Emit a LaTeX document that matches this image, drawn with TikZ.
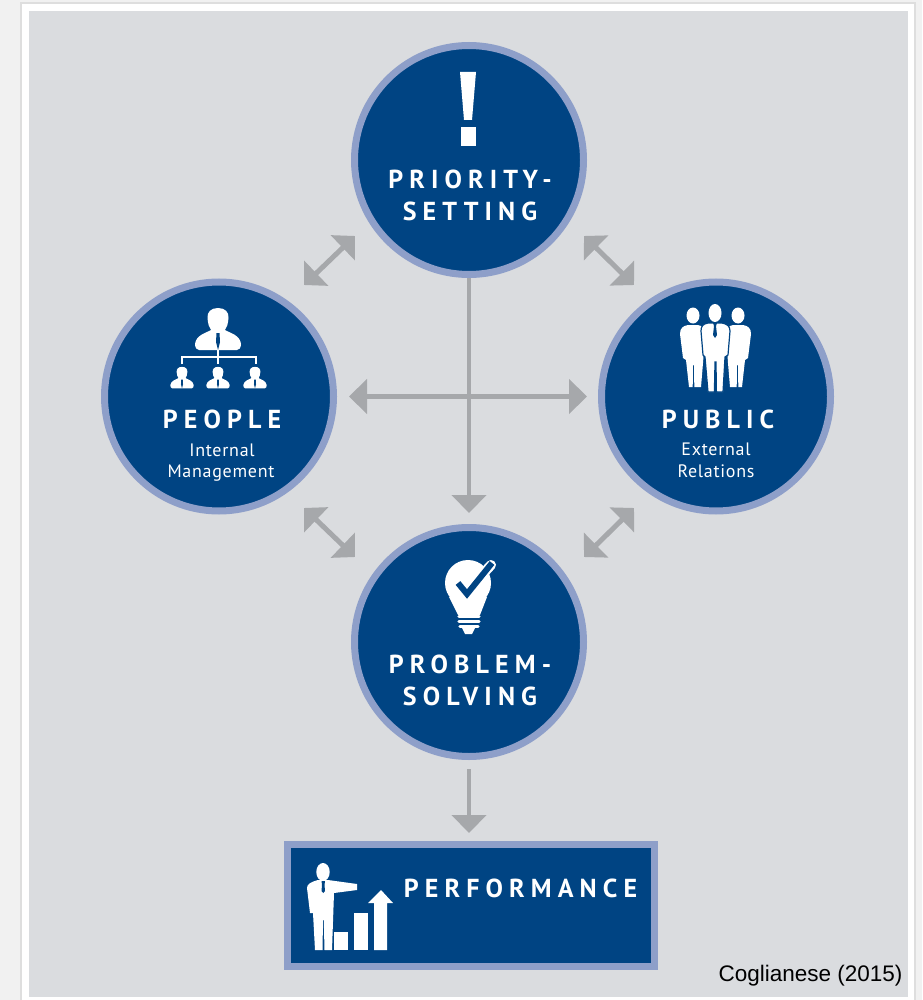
\documentclass[tikz,border=0pt]{standalone}
\usepackage{fontspec}
\usepackage{tikz}
\usetikzlibrary{arrows.meta}
\setmainfont{Liberation Sans}
\newfontfamily\headfont[LetterSpace=23.5]{PT Sans}
\newfontfamily\subfont[LetterSpace=4]{PT Sans}

\definecolor{navy}{HTML}{004483}
\definecolor{ring}{HTML}{8E9FC9}
\definecolor{arrowgray}{HTML}{A6A8AB}
\definecolor{panel}{HTML}{DADCDF}
\definecolor{pagegray}{HTML}{F1F1F1}
\definecolor{edgegray}{HTML}{DEDEDE}

\begin{document}
\begin{tikzpicture}[x=1pt,y=-1pt,
  hub/.style={circle,draw=ring,fill=navy,line width=7pt,minimum size=229pt,inner sep=0pt},
  plate/.style={rectangle,draw=ring,fill=navy,line width=7pt,minimum width=367pt,minimum height=122pt,inner sep=0pt},
  link/.style={draw=arrowgray,line width=4.5pt,-{Triangle[width=34pt,length=18pt]}},
  twoway/.style={draw=arrowgray,line width=5pt,{Triangle[width=34pt,length=17pt]}-{Triangle[width=34pt,length=17pt]}},
  head/.style={white,font=\headfont\fontsize{26}{26}\selectfont\bfseries,inner sep=0pt,anchor=base},
  sub/.style={white,font=\subfont\fontsize{18}{18}\selectfont,inner sep=0pt,anchor=base},
  icon/.style={fill=white,draw=none},
  bust/.pic={
    \fill[white] (0,-10) .. controls (-7,-10) and (-11,-6) .. (-10.5,0) .. controls (-10,6) and (-9,9) .. (-7,12)
      .. controls (-12,15) and (-22,17) .. (-23,26) .. controls (-23,30) and (-21,32) .. (-19,32)
      -- (19,32) .. controls (21,32) and (23,30) .. (23,26) .. controls (22,17) and (12,15) .. (7,12)
      .. controls (9,9) and (10,6) .. (10.5,0) .. controls (11,-6) and (7,-10) .. (0,-10) -- cycle;
    \fill[navy] (-1.5,15) -- (1.5,15) -- (2,24) -- (0,32) -- (-2,24) -- cycle;
  },
  figure/.pic={
    \fill[white] (0,-7.5) ellipse (6.5 and 8);
    \fill[white] (-5,2) .. controls (-10,3) and (-13,5) .. (-13,11) -- (-10,35) -- (-7,37) -- (-4,64) -- (-0.3,64)
      -- (0,42) -- (1,42) -- (1.3,64) -- (8,64) -- (10,40) -- (12,11) .. controls (12,5) and (9,3) .. (5,2) -- cycle;
  }]
\useasboundingbox (0,0) rectangle (922,1000);

\fill[pagegray] (0,0) rectangle (922,1000);
\filldraw[fill=white,draw=edgegray,line width=2pt] (21,3) rectangle (915,1001);
\fill[panel] (29,11) rectangle (908,997);

\node[hub] (priority) at (469,160) {};
\node[hub] (people) at (219,396.5) {};
\node[hub] (public) at (716,396.5) {};
\node[hub] (problem) at (469,642) {};
\node[plate] (performance) at (470.5,905.5) {};

\draw[link,shorten >=11pt] (priority) -- (problem);
\draw[link,shorten <=12pt,shorten >=11pt,{Triangle[width=34pt,length=18pt]}-{Triangle[width=34pt,length=18pt]}] (people) -- (public);
\draw[link,shorten <=9pt,shorten >=8pt] (problem.south) -- (problem.south |- performance.north);

\coordinate (pplA) at (304,285);
\coordinate (pplB) at (355,236);
\coordinate (pubA) at (584,236);
\coordinate (pubB) at (634,285);
\coordinate (solA) at (304,508);
\coordinate (solB) at (355,557);
\coordinate (solC) at (584,557);
\coordinate (solD) at (634,508);
\draw[twoway] (pplA) -- (pplB);
\draw[twoway] (pubA) -- (pubB);
\draw[twoway] (solA) -- (solB);
\draw[twoway] (solC) -- (solD);

\fill[icon] (460,72) -- (476,72) -- (472,120) -- (464,120) -- cycle;
\fill[icon] (461,127) rectangle (476,146);

\node[head] (priorityA) at (470,188.5) {PRIORITY-};
\node[head] (priorityB) at (470,220.5) {SETTING};

\pic at (218,318) {bust};
\draw[white,line width=2pt] (182,364) -- (182,357) -- (256,357) -- (256,364);
\draw[white,line width=2pt] (218,350) -- (218,364);
\foreach \x in {182,218,255} {
  \pic[scale=0.51] at (\x,372) {bust};
}

\node[head] (peopleA) at (222,428.5) {PEOPLE};
\node[sub] (peopleB) at (222,456) {Internal};
\node[sub] (peopleC) at (221,477) {Management};

\pic at (693,323) {figure};
\pic[xscale=-1] at (738,323) {figure};
\fill[white,draw=navy,line width=1.2pt] (708,323) .. controls (703,324) and (701,326) .. (701,331) -- (703,355)
  -- (705,357) -- (708,392) -- (714.4,392) -- (715,362) -- (716,362) -- (716.4,392) -- (723,392) -- (725,357)
  -- (728,355) -- (730,331) .. controls (730,326) and (727,324) .. (722,323) -- cycle;
\fill[white] (715,313) ellipse (6.5 and 9);
\fill[navy] (713,323) -- (717,323) -- (716,326) -- (717,335) -- (715,338) -- (713,335) -- (714,326) -- cycle;

\node[head] (publicA) at (718,428.5) {PUBLIC};
\node[sub] (publicB) at (716,455) {External};
\node[sub] (publicC) at (716,477) {Relations};

\fill[icon] (468,583) circle (23);
\fill[icon] (449,597) -- (487,597) -- (480,615) -- (458,615) -- cycle;
\draw[white,line width=3.2pt,line cap=round] (459,616.5) -- (479,616.5);
\draw[white,line width=3.2pt,line cap=round] (459,621.5) -- (479,621.5);
\draw[white,line width=3.2pt,line cap=round] (460,626.5) -- (478,626.5);
\fill[icon] (462,628) -- (475,628) -- (472,634) -- (465,634) -- cycle;
\draw[white,line width=10pt,line cap=round] (480,577) -- (491,565);
\draw[navy,line width=6pt,line join=miter] (458,583) -- (467,594) -- (492,563);

\node[head] (problemA) at (470,673.5) {PROBLEM-};
\node[head] (problemB) at (470,705.5) {SOLVING};

\fill[white] (323,872) ellipse (6.7 and 9);
\fill[icon] (318,880) -- (328,880) -- (357,884) -- (357,890) -- (334,893) -- (332,950) -- (324.5,950)
  -- (323.8,920) -- (323,920) -- (322.5,950) -- (315,950) -- (313,913) -- (310,913) -- (307,888)
  .. controls (307,884) and (311,882) .. (318,880) -- cycle;
\fill[navy] (321.5,881) -- (325,881) -- (324.5,885) -- (325,891) -- (323.3,893) -- (321.5,891) -- (322,885) -- cycle;
\fill[icon] (334,932) rectangle (348,950);
\fill[icon] (354,913) rectangle (368,950);
\fill[icon] (374,950) -- (374,903) -- (368,903) -- (381,890) -- (393,903) -- (387,903) -- (387,950) -- cycle;

\node[head] (performanceA) at (520.5,897.5) {PERFORMANCE};

\node[black,font=\fontsize{22.5}{22.5}\selectfont,inner sep=0pt] (source) at (810.5,976) {Coglianese (2015)};
\end{tikzpicture}
\end{document}
